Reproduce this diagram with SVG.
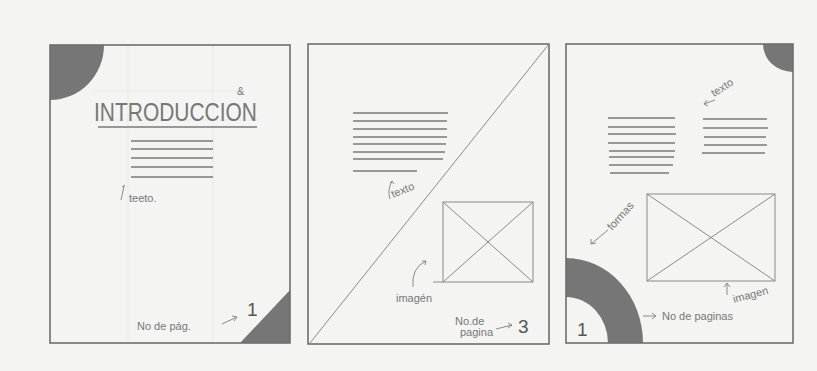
<svg xmlns="http://www.w3.org/2000/svg" width="817" height="371" viewBox="0 0 817 371">
<style>
.frame{fill:none;stroke:#6e6e6e;stroke-width:1.6}
.thin{fill:none;stroke:#8a8a8a;stroke-width:1}
.guide{fill:none;stroke:#e6e6e3;stroke-width:0.8}
.tl{fill:none;stroke:#7a7a7a;stroke-width:1.4}
.shade{fill:#767676}
.hand{font-family:"Liberation Sans",Arial,sans-serif;fill:#777;font-size:11px}
.num{font-family:"Liberation Sans",Arial,sans-serif;fill:#555;font-size:19px}
</style>
<rect width="817" height="371" fill="#f4f4f2"/>

<g id="page1">
  <line class="guide" x1="128" y1="46" x2="128" y2="342"/>
  <line class="guide" x1="213" y1="46" x2="213" y2="342"/>
  <line class="guide" x1="95" y1="91" x2="237" y2="91"/>
  <line class="guide" x1="95" y1="120" x2="258" y2="120"/>
  <path class="shade" d="M50 45 H104 A54 55 0 0 1 50 100 Z"/>
  <path class="shade" d="M240 343 L290 290 L290 343 Z"/>
  <rect class="frame" x="50" y="45" width="240" height="298"/>
  <text x="94" y="121" font-family="'Liberation Sans',Arial,sans-serif" font-size="25" fill="#777" textLength="163" lengthAdjust="spacingAndGlyphs">INTRODUCCION</text>
  <text x="237" y="95" class="hand" font-size="7">&amp;</text>
  <line class="tl" x1="98" y1="127" x2="257" y2="127"/>
  <line class="tl" x1="131" y1="141" x2="213" y2="141"/>
  <line class="tl" x1="131" y1="149" x2="213" y2="149"/>
  <line class="tl" x1="131" y1="158" x2="213" y2="158"/>
  <line class="tl" x1="131" y1="167" x2="213" y2="167"/>
  <line class="tl" x1="131" y1="177" x2="213" y2="177"/>
  <path class="thin" d="M121 200 L124 186 M122 187 L125 185"/>
  <text x="129" y="202" class="hand">teeto.</text>
  <text x="137" y="330" class="hand">No de pág.</text>
  <path class="thin" d="M222 324 L237 317 M232 316 L237 317 L234 321"/>
  <text x="247" y="316" class="num">1</text>
</g>

<g id="page2">
  <rect class="frame" x="308" y="44" width="241" height="300"/>
  <line class="thin" x1="310" y1="343" x2="549" y2="44"/>
  <line class="tl" x1="353" y1="113" x2="448" y2="113"/>
  <line class="tl" x1="353" y1="121" x2="447" y2="121"/>
  <line class="tl" x1="353" y1="129" x2="447" y2="129"/>
  <line class="tl" x1="353" y1="137" x2="447" y2="137"/>
  <line class="tl" x1="353" y1="144" x2="446" y2="144"/>
  <line class="tl" x1="353" y1="152" x2="445" y2="152"/>
  <line class="tl" x1="353" y1="159" x2="443" y2="159"/>
  <line class="tl" x1="353" y1="171" x2="417" y2="171"/>
  <path class="thin" d="M390 199 Q387 190 392 181 M390 183 L392 181 L394 184"/>
  <text x="393" y="198" class="hand" transform="rotate(-22 393 198)">texto</text>
  <rect class="thin" x="443" y="202" width="90" height="80"/>
  <line class="thin" x1="443" y1="202" x2="533" y2="282"/>
  <line class="thin" x1="533" y1="202" x2="443" y2="282"/>
  <line class="thin" x1="433" y1="282" x2="443" y2="282"/>
  <path class="thin" d="M413 287 Q411 268 426 261 M422 261 L426 261 L425 265"/>
  <text x="396" y="302" class="hand">imagén</text>
  <text x="455" y="325" class="hand" font-size="9">No.de</text>
  <text x="460" y="336" class="hand">pagina</text>
  <path class="thin" d="M496 329 L512 325 M508 323 L512 325 L508 328"/>
  <text x="518" y="333" class="num">3</text>
</g>

<g id="page3">
  <path class="shade" d="M793 44 V72 A30 28 0 0 1 763 44 Z"/>
  <path class="shade" d="M566 258 A77 85 0 0 1 643 343 H608 A42 46 0 0 0 566 297 Z"/>
  <rect class="frame" x="566" y="44" width="227" height="299"/>
  <path class="thin" d="M715 100 L704 104 M707 100 L704 104 L708 106"/>
  <text x="714" y="97" class="hand" transform="rotate(-32 714 97)">texto</text>
  <line class="tl" x1="608" y1="118" x2="675" y2="118"/>
  <line class="tl" x1="608" y1="127" x2="675" y2="127"/>
  <line class="tl" x1="608" y1="134" x2="676" y2="134"/>
  <line class="tl" x1="608" y1="143" x2="675" y2="143"/>
  <line class="tl" x1="609" y1="151" x2="675" y2="151"/>
  <line class="tl" x1="609" y1="157" x2="674" y2="157"/>
  <line class="tl" x1="609" y1="165" x2="673" y2="165"/>
  <line class="tl" x1="610" y1="173" x2="669" y2="173"/>
  <line class="tl" x1="703" y1="119" x2="767" y2="119"/>
  <line class="tl" x1="703" y1="128" x2="768" y2="128"/>
  <line class="tl" x1="704" y1="137" x2="766" y2="137"/>
  <line class="tl" x1="704" y1="145" x2="767" y2="145"/>
  <line class="tl" x1="702" y1="153" x2="765" y2="153"/>
  <rect class="thin" x="647" y="194" width="128" height="87"/>
  <line class="thin" x1="647" y1="194" x2="775" y2="281"/>
  <line class="thin" x1="775" y1="194" x2="647" y2="281"/>
  <path class="thin" d="M608 230 L591 244 M591 239 L591 244 L596 243"/>
  <text x="612" y="231" class="hand" font-size="13" transform="rotate(-48 612 231)">formas</text>
  <path class="thin" d="M727 295 L727 283 M724 287 L727 283 L730 287"/>
  <text x="734" y="303" class="hand" transform="rotate(-15 734 303)">imagen</text>
  <path class="thin" d="M643 316 L656 316 M652 313 L656 316 L652 319"/>
  <text x="662" y="320" class="hand" font-size="12">No de paginas</text>
  <text x="577" y="336" class="num">1</text>
</g>
</svg>
